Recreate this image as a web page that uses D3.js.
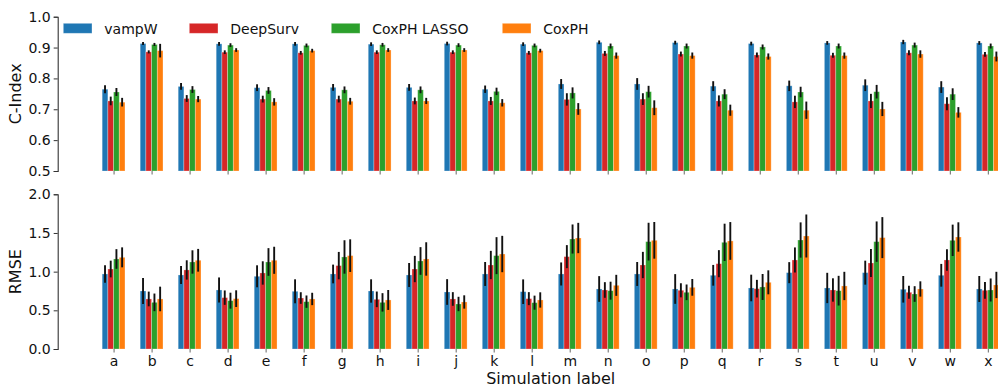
<!DOCTYPE html>
<html><head><meta charset="utf-8">
<script src="https://cdn.jsdelivr.net/npm/d3@7"></script>
<style>body{margin:0;background:#fff}svg{display:block;font-family:"DejaVu Sans",sans-serif}</style>
</head><body><svg id="c" width="998" height="387"></svg>
<script>
const categories = "abcdefghijklmnopqrstuvwx".split("");
const seriesNames = ["vampW","DeepSurv","CoxPH LASSO","CoxPH"];
const seriesColors = ["#1f77b4","#d62728","#2ca02c","#ff7f0e"];

const cindexVampW  = [0.765,0.913,0.774,0.912,0.770,0.912,0.771,0.911,0.771,0.913,0.765,0.911,0.782,0.917,0.782,0.916,0.775,0.913,0.776,0.915,0.778,0.918,0.772,0.915];
const cindexDeep   = [0.727,0.886,0.735,0.885,0.733,0.883,0.733,0.885,0.727,0.885,0.727,0.883,0.732,0.881,0.733,0.879,0.727,0.876,0.724,0.875,0.727,0.883,0.718,0.878];
const cindexLasso  = [0.756,0.910,0.764,0.908,0.761,0.907,0.763,0.909,0.763,0.908,0.758,0.907,0.753,0.905,0.757,0.905,0.749,0.902,0.756,0.905,0.757,0.908,0.749,0.905];
const cindexCox    = [0.723,0.890,0.733,0.892,0.724,0.890,0.726,0.892,0.727,0.892,0.721,0.890,0.701,0.874,0.705,0.874,0.697,0.871,0.697,0.874,0.701,0.879,0.690,0.871];
const cindexErrVampW = [0.013,0.005,0.011,0.006,0.011,0.006,0.011,0.006,0.011,0.006,0.012,0.006,0.016,0.006,0.019,0.006,0.016,0.006,0.017,0.006,0.019,0.007,0.019,0.006];
const cindexErrDeep  = [0.014,0.005,0.011,0.006,0.011,0.006,0.011,0.006,0.011,0.006,0.013,0.006,0.020,0.008,0.019,0.008,0.018,0.008,0.020,0.008,0.023,0.008,0.021,0.008];
const cindexErrLasso = [0.013,0.005,0.011,0.006,0.011,0.006,0.011,0.006,0.011,0.006,0.012,0.006,0.018,0.008,0.019,0.008,0.016,0.008,0.017,0.008,0.022,0.008,0.019,0.008];
const cindexErrCox   = [0.014,0.022,0.010,0.006,0.012,0.006,0.011,0.006,0.010,0.006,0.012,0.006,0.019,0.010,0.024,0.010,0.018,0.010,0.028,0.010,0.023,0.012,0.017,0.016];

const rmseVampW = [0.970,0.750,0.957,0.763,0.940,0.746,0.970,0.750,0.957,0.737,0.970,0.741,0.970,0.776,0.970,0.776,0.953,0.789,0.987,0.789,0.987,0.772,0.953,0.776];
const rmseDeep  = [1.034,0.647,1.022,0.664,0.983,0.659,1.078,0.642,1.034,0.647,1.086,0.651,1.194,0.763,1.086,0.759,1.103,0.780,1.151,0.763,1.112,0.733,1.151,0.759];
const rmseLasso = [1.164,0.603,1.125,0.625,1.125,0.612,1.190,0.603,1.138,0.582,1.207,0.599,1.422,0.754,1.388,0.733,1.379,0.802,1.409,0.754,1.388,0.711,1.405,0.763];
const rmseCox   = [1.185,0.647,1.147,0.651,1.147,0.647,1.207,0.634,1.164,0.608,1.228,0.634,1.435,0.823,1.405,0.797,1.397,0.862,1.461,0.815,1.440,0.776,1.448,0.828];
const rmseErrVampW = [0.114,0.168,0.116,0.162,0.142,0.155,0.121,0.151,0.155,0.166,0.155,0.159,0.149,0.166,0.155,0.192,0.134,0.172,0.136,0.196,0.155,0.172,0.147,0.168];
const rmseErrDeep  = [0.108,0.095,0.125,0.093,0.151,0.075,0.177,0.101,0.170,0.088,0.183,0.084,0.149,0.101,0.170,0.091,0.175,0.114,0.162,0.151,0.181,0.084,0.140,0.108];
const rmseErrLasso = [0.127,0.114,0.151,0.103,0.179,0.080,0.216,0.119,0.179,0.093,0.239,0.091,0.188,0.116,0.244,0.101,0.241,0.168,0.228,0.192,0.261,0.101,0.203,0.149];
const rmseErrCox   = [0.129,0.159,0.147,0.108,0.175,0.080,0.211,0.129,0.216,0.086,0.235,0.099,0.196,0.136,0.237,0.108,0.244,0.155,0.278,0.183,0.265,0.099,0.190,0.170];

const cTicks = [0.5,0.6,0.7,0.8,0.9,1.0];
const rTicks = [0.0,0.5,1.0,1.5,2.0];

const svg = d3.select("#c");
const x = d3.scalePoint().domain(categories).range([57.7,1043.7]).padding(1.47);
const step = x.step();
const bw = step*0.15;

function panel(yDomain, yRange, ticks, vals, errs, yLabel, showXLabels){
  const y = d3.scaleLinear().domain(yDomain).range(yRange);
  const g = svg.append("g");
  // bars
  vals.forEach((arr,si)=>{
    g.append("g").selectAll("rect").data(arr).join("rect")
      .attr("x",(d,i)=>x(categories[i]) + (si-2)*bw)
      .attr("width",bw)
      .attr("y",d=>y(d))
      .attr("height",d=>y(yDomain[0])-y(d))
      .attr("fill",seriesColors[si])
      .attr("stroke","rgba(255,255,255,0.35)").attr("stroke-width",0.8);
  });
  vals.forEach((arr,si)=>{
    g.append("g").selectAll("line").data(arr).join("line")
      .attr("x1",(d,i)=>x(categories[i]) + (si-1.5)*bw)
      .attr("x2",(d,i)=>x(categories[i]) + (si-1.5)*bw)
      .attr("y1",(d,i)=>y(d-errs[si][i]))
      .attr("y2",(d,i)=>y(d+errs[si][i]))
      .attr("stroke","#111").attr("stroke-width",1.9);
  });
  // y axis
  const ya = g.append("g").attr("transform","translate(57.7,0)")
    .call(d3.axisLeft(y).tickValues(ticks).tickFormat(d3.format(".1f")).tickSize(4).tickPadding(3));
  ya.select(".domain").attr("stroke","#333").attr("stroke-width",1.1);
  ya.selectAll(".tick line").attr("stroke","#333");
  ya.selectAll("text").attr("font-size",14).attr("fill","#111").attr("font-family","DejaVu Sans");
  // x axis (ticks only)
  const xa = g.append("g").attr("transform",`translate(0,${yRange[0]})`)
    .call(d3.axisBottom(x).tickSize(3.5).tickPadding(4).tickFormat(showXLabels? d=>d : ""));
  xa.select(".domain").remove();
  xa.selectAll(".tick line").attr("stroke","#666");
  xa.selectAll("text").attr("font-size",14).attr("fill","#111").attr("font-family","DejaVu Sans");
  g.append("text").attr("transform",`translate(21,${(yRange[0]+yRange[1])/2}) rotate(-90)`)
    .attr("text-anchor","middle").attr("font-size",16).attr("fill","#111").text(yLabel);
  return y;
}

panel([0.5,1.0],[171,16.7],cTicks,[cindexVampW,cindexDeep,cindexLasso,cindexCox],
  [cindexErrVampW,cindexErrDeep,cindexErrLasso,cindexErrCox],"C-Index",false);
panel([0,2],[349,194.3],rTicks,[rmseVampW,rmseDeep,rmseLasso,rmseCox],
  [rmseErrVampW,rmseErrDeep,rmseErrLasso,rmseErrCox],"RMSE",true);

svg.append("text").attr("x",550.7).attr("y",384).attr("text-anchor","middle")
  .attr("font-size",16).attr("fill","#111").text("Simulation label");

// legend
const lg = svg.append("g");
const legendX = [63.3,189.3,331.3,502.3];
seriesNames.forEach((n,i)=>{
  lg.append("rect").attr("x",legendX[i]).attr("y",23.3).attr("width",28.7).attr("height",10)
    .attr("fill",seriesColors[i]).attr("stroke","rgba(255,255,255,0.4)").attr("stroke-width",0.8);
  lg.append("text").attr("x",legendX[i]+41).attr("y",33.5).attr("font-size",14).attr("fill","#111").text(n);
});
</script></body></html>
